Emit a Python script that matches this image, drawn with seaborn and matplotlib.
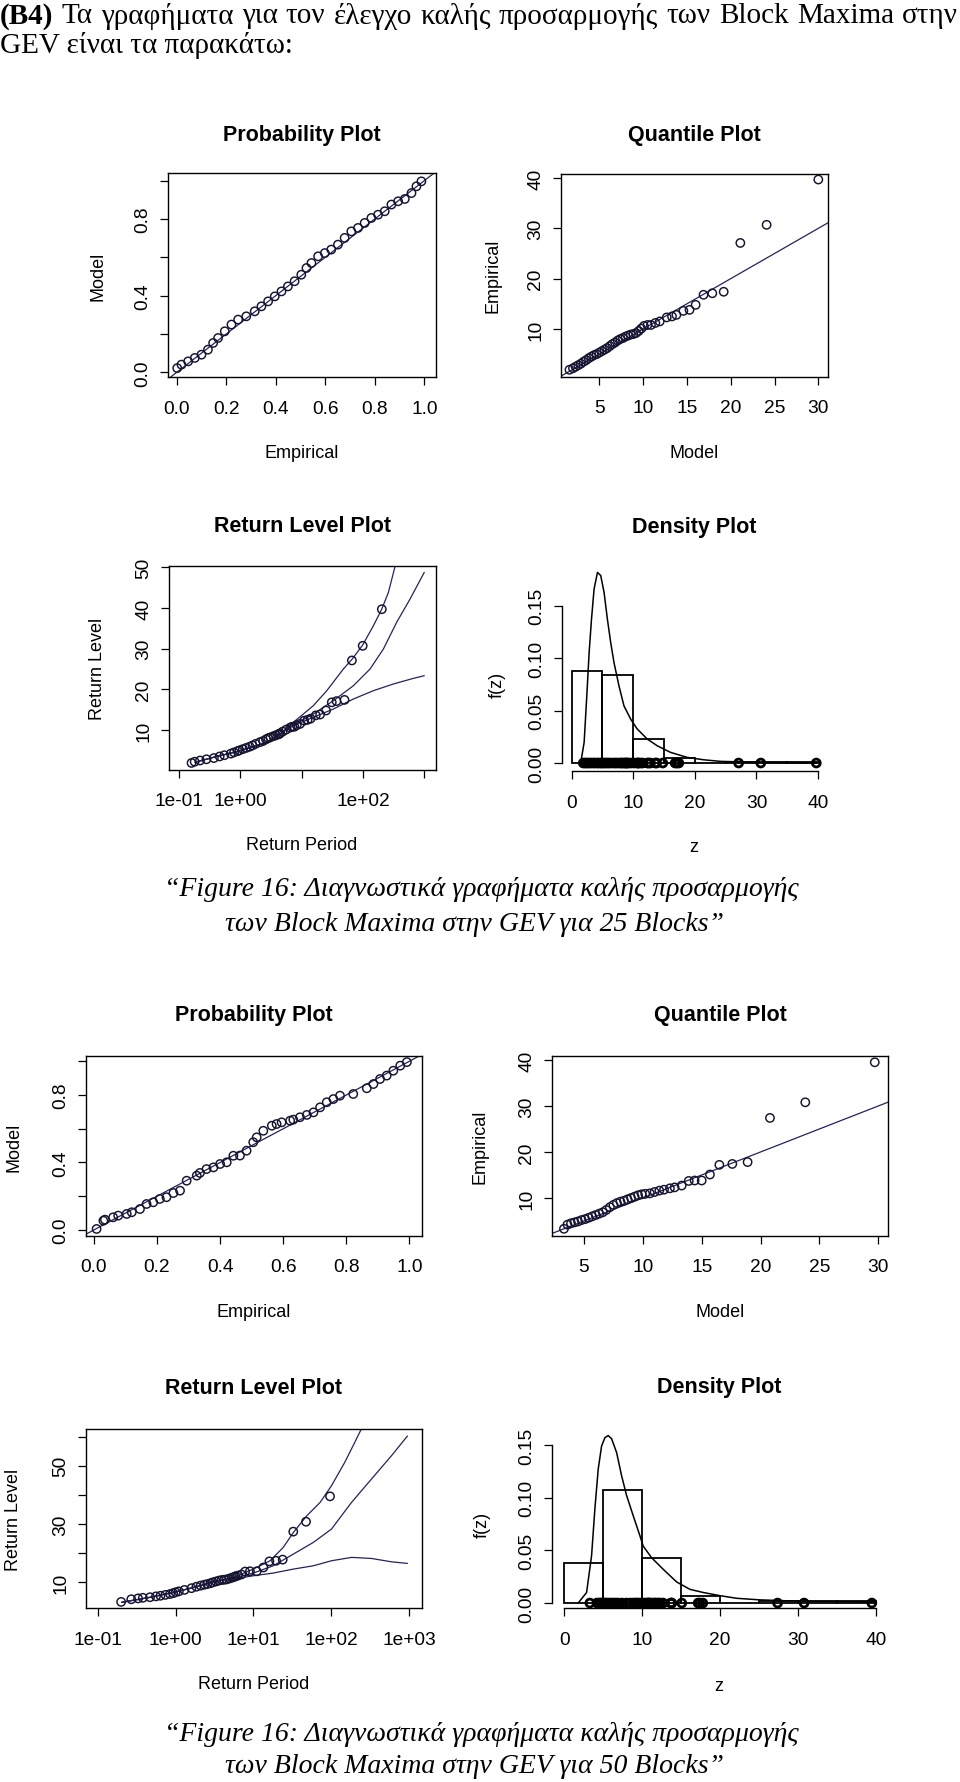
import matplotlib
matplotlib.use("Agg")
import matplotlib.pyplot as plt
from matplotlib.ticker import NullLocator
import seaborn as sns

# ---------------- data ----------------
# 25 blocks: probability plot
p25_emp = [0.002, 0.019, 0.046, 0.073, 0.100, 0.126, 0.147, 0.167, 0.194, 0.221, 0.248, 0.281, 0.315,
           0.342, 0.369, 0.396, 0.423, 0.449, 0.476, 0.503, 0.524, 0.544, 0.571, 0.598, 0.624, 0.651,
           0.678, 0.705, 0.732, 0.759, 0.786, 0.813, 0.840, 0.867, 0.894, 0.921, 0.948, 0.968, 0.988]
p25_mod = [0.022, 0.040, 0.057, 0.075, 0.092, 0.118, 0.153, 0.179, 0.214, 0.249, 0.275, 0.292, 0.318,
           0.344, 0.370, 0.396, 0.422, 0.448, 0.475, 0.509, 0.544, 0.570, 0.605, 0.622, 0.640, 0.666,
           0.701, 0.735, 0.753, 0.779, 0.805, 0.822, 0.840, 0.875, 0.892, 0.904, 0.935, 0.970, 0.996]
# 25 blocks: quantile plot (model vs sorted block maxima)
q25_mod = [1.6, 2.0, 2.3, 2.6, 2.9, 3.2, 3.5, 3.8, 4.1, 4.4, 4.7, 5.0, 5.3, 5.6, 5.9, 6.2, 6.5, 6.8, 7.1,
           7.4, 7.7, 8.0, 8.3, 8.6, 8.9, 9.2, 9.5, 9.8, 10.1, 10.5, 10.9, 11.4, 11.9, 12.7, 13.3, 13.8,
           14.6, 15.3, 16.0, 16.9, 17.9, 19.2, 21.1, 24.1, 30.0]
q25_emp = [1.9, 2.2, 2.5, 2.8, 3.1, 3.5, 3.8, 4.2, 4.5, 4.8, 5.0, 5.3, 5.6, 5.9, 6.2, 6.6, 7.0, 7.3, 7.7,
           8.0, 8.2, 8.5, 8.7, 8.9, 9.0, 9.2, 9.6, 10.1, 10.6, 10.8, 10.8, 11.2, 11.5, 12.3, 12.5, 12.8,
           13.6, 13.8, 14.8, 16.8, 17.1, 17.4, 27.1, 30.7, 39.7]
# 25 blocks: return periods of the empirical points
rl25_T = [0.16, 0.18, 0.22, 0.28, 0.37, 0.46, 0.55, 0.70, 0.79, 0.90, 0.97, 1.1, 1.25, 1.42, 1.58, 1.78,
          2.08, 2.35, 2.62, 2.85, 3.1, 3.5, 3.8, 4.1, 4.3, 4.45, 4.9, 5.6, 6.5, 7.0, 7.6, 8.3, 9.4, 11,
          12.5, 14, 17, 20, 25, 31, 37, 50, 66, 99, 203]
# 25 blocks: fitted return level curve and confidence bounds
up25_T = [0.182, 0.363, 1.0, 2.69, 4.45, 7.33, 15.5, 25.7, 47.9, 65.6, 99, 148, 203, 260, 334, 420]
up25_L = [2.06, 3.28, 4.91, 6.97, 9.02, 11.89, 15.98, 19.67, 25.0, 27.3, 30.9, 35.65, 39.75, 43.85, 50.25, 56]
fit25_T = [0.182, 0.363, 1.0, 2.69, 4.45, 7.33, 15.5, 32.9, 69.8, 130.6, 215, 355, 586, 1000]
fit25_L = [2.06, 3.28, 4.91, 6.97, 9.02, 11.23, 13.93, 17.2, 20.89, 25.0, 29.9, 36.5, 42.2, 48.77]
lo25_T = [0.182, 0.363, 1.0, 2.69, 4.45, 7.33, 15.5, 32.9, 69.8, 148, 313, 664, 1000]
lo25_L = [2.06, 3.28, 4.91, 6.97, 9.02, 11.07, 13.12, 15.16, 17.62, 19.67, 21.31, 22.7, 23.35]
# 25 blocks: density plot
hist_edges = [0, 5, 10, 15, 20, 25, 30, 35, 40]
hist_mid = [2.5, 7.5, 12.5, 17.5, 22.5, 27.5, 32.5, 37.5]
h25 = [0.088, 0.084, 0.0232, 0.0048, 0.0, 0.0008, 0.0008, 0.0008]
d25_z = [1.50, 2.04, 2.47, 2.85, 3.23, 3.65, 4.20, 4.73, 5.27, 5.82, 6.35, 6.88, 7.69, 8.50, 9.58,
         10.66, 12.28, 13.89, 16.04, 18.74, 21.42, 24.12, 29.5, 39.74]
d25_f = [0.0007, 0.0197, 0.064, 0.1055, 0.137, 0.166, 0.182, 0.179, 0.163, 0.137, 0.115, 0.096, 0.0737,
         0.0546, 0.042, 0.0324, 0.0229, 0.0165, 0.0102, 0.0054, 0.0031, 0.0016, 0.0007, 0.0]

# 50 blocks
p50_emp = [0.0085, 0.030, 0.035, 0.061, 0.077, 0.104, 0.120, 0.146, 0.167, 0.188, 0.209, 0.230, 0.252,
           0.273, 0.294, 0.326, 0.336, 0.357, 0.379, 0.400, 0.421, 0.442, 0.463, 0.484, 0.505, 0.516,
           0.537, 0.564, 0.579, 0.595, 0.622, 0.632, 0.653, 0.675, 0.696, 0.717, 0.738, 0.759, 0.780,
           0.822, 0.865, 0.886, 0.907, 0.928, 0.949, 0.971, 0.992]
p50_mod = [0.006, 0.055, 0.061, 0.075, 0.085, 0.095, 0.105, 0.124, 0.154, 0.164, 0.184, 0.194, 0.219,
           0.233, 0.292, 0.322, 0.338, 0.361, 0.371, 0.391, 0.401, 0.440, 0.441, 0.470, 0.520, 0.549,
           0.588, 0.618, 0.628, 0.638, 0.648, 0.654, 0.668, 0.682, 0.697, 0.727, 0.757, 0.776, 0.796,
           0.806, 0.840, 0.865, 0.895, 0.915, 0.944, 0.974, 0.995]
q50_mod = [3.3, 3.6, 3.9, 4.2, 4.5, 4.8, 5.1, 5.4, 5.7, 6.0, 6.3, 6.6, 6.9, 7.2, 7.5, 7.8, 8.1, 8.4, 8.7,
           9.0, 9.3, 9.6, 9.9, 10.2, 10.6, 11.0, 11.4, 11.8, 12.3, 12.7, 13.3, 13.9, 14.4, 15.0, 15.7,
           16.5, 17.6, 18.9, 20.8, 23.8, 29.7]
q50_emp = [3.3, 4.2, 4.5, 4.7, 4.9, 5.2, 5.4, 5.7, 6.0, 6.3, 6.6, 6.9, 7.4, 8.0, 8.5, 8.9, 9.2, 9.4, 9.7,
           10.0, 10.3, 10.6, 10.8, 10.9, 11.0, 11.3, 11.6, 11.8, 12.1, 12.3, 12.7, 13.7, 13.8, 13.8, 15.1,
           17.2, 17.4, 17.8, 27.4, 30.8, 39.5]
rl50_T = [0.20, 0.27, 0.33, 0.38, 0.47, 0.56, 0.64, 0.74, 0.85, 0.93, 1.0, 1.1, 1.3, 1.6, 1.85, 2.1, 2.35,
          2.55, 2.8, 3.0, 3.3, 3.6, 3.9, 4.2, 4.5, 4.9, 5.3, 5.6, 5.9, 6.3, 7.0, 7.8, 9.0, 11, 13.4, 16,
          19.5, 23.7, 32.4, 47.2, 96]
up50_T = [0.203, 0.469, 1.03, 2.06, 3.37, 5.5, 9.94, 16.3, 24.1, 32.5, 48.2, 71.5, 100, 148, 199, 243, 300]
up50_L = [3.15, 4.86, 6.78, 8.84, 10.45, 11.7, 14.55, 17.4, 21.99, 27.1, 32.8, 37.4, 43.1, 51.1, 57.95, 62.7, 68]
fit50_T = [0.203, 0.469, 1.03, 2.06, 3.37, 5.5, 9.94, 17.9, 32.5, 58.6, 100, 181, 326, 589, 946]
fit50_L = [3.15, 4.86, 6.78, 8.84, 10.45, 11.36, 13.18, 15.68, 19.7, 23.7, 28.25, 37.4, 45.4, 53.4, 60.2]
lo50_T = [0.203, 0.469, 1.03, 2.06, 3.37, 5.5, 9.94, 17.9, 32.5, 58.6, 100, 181, 326, 589, 946]
lo50_L = [3.15, 4.86, 6.78, 8.84, 10.45, 11.13, 12.26, 13.18, 14.55, 15.68, 17.4, 18.56, 18.2, 17.05, 16.5]
h50 = [0.0384, 0.1072, 0.0432, 0.0064, 0.0, 0.0016, 0.0016, 0.0016]
d50_z = [1.80, 2.88, 3.52, 3.94, 4.37, 4.80, 5.23, 5.65, 6.09, 6.73, 7.37, 8.02, 8.86, 9.72, 10.15, 11.23,
         12.72, 14.44, 16.15, 17.86, 20.0, 22.15, 25.14, 30.7, 39.9]
d50_f = [0.0, 0.010, 0.045, 0.089, 0.127, 0.149, 0.157, 0.159, 0.156, 0.143, 0.121, 0.102, 0.083, 0.064,
         0.054, 0.043, 0.032, 0.020, 0.013, 0.010, 0.007, 0.0045, 0.003, 0.0016, 0.001]

header1 = "(B4) Τα γραφήματα για τον έλεγχο καλής προσαρμογής των Block Maxima στην"
header2 = "GEV είναι τα παρακάτω:"
cap_a = "“Figure 16: Διαγνωστικά γραφήματα καλής προσαρμογής"
cap_b25 = "των Block Maxima στην GEV για 25 Blocks”"
cap_b50 = "των Block Maxima στην GEV για 50 Blocks”"

# ---------------- style ----------------
sns.set_style("ticks", {"axes.edgecolor": "black", "xtick.color": "black", "ytick.color": "black",
                        "text.color": "black", "axes.labelcolor": "black"})
plt.rcParams['font.family'] = ['Liberation Sans', 'DejaVu Sans']
LN = '#23235e'     # fitted lines
PT = '#141430'     # points
TICK = 13.8
LAB = 13
TITLE = 15.5

W, H = 960, 1783
fig = plt.figure(figsize=(W / 100, H / 100), dpi=100)


def panel(l, t, r, b, xlim, ylim, frame=True):
    ax = fig.add_axes([l / W, 1 - b / H, (r - l) / W, (b - t) / H])
    ax.set_facecolor('white')
    for s in ax.spines.values():
        s.set_linewidth(1.0)
        s.set_color('black')
    if not frame:
        ax.spines['top'].set_visible(False)
        ax.spines['right'].set_visible(False)
    return ax


def ticks(ax, xlim, ylim, xt, xl, yt, yl):
    ax.set_xlim(xlim)
    ax.set_ylim(ylim)
    ax.set_xticks(xt, xl)
    ax.set_yticks(yt, yl)
    ax.xaxis.set_minor_locator(NullLocator())
    ax.yaxis.set_minor_locator(NullLocator())
    ax.tick_params(direction='out', length=6, width=0.9, labelsize=TICK, color='black')
    ax.tick_params(axis='x', pad=10)
    ax.tick_params(axis='y', pad=6, labelrotation=90)
    for lab in ax.get_yticklabels():
        lab.set_va('center')
    ax.set_xlabel('')
    ax.set_ylabel('')


def put(x, y, s, **kw):
    kw.setdefault('ha', 'center')
    kw.setdefault('va', 'center')
    fig.text(x / W, 1 - y / H, s, **kw)


def labels(cx, ty, title, xy, xlab, yx, ylab, cy):
    put(cx, ty, title, fontsize=TITLE, fontweight='bold')
    put(cx, xy, xlab, fontsize=LAB)
    put(yx, cy, ylab, fontsize=LAB, rotation=90)


def points(ax, x, y, color=PT):
    sns.scatterplot(x=x, y=y, ax=ax, marker='o', s=36, facecolor='none', edgecolor=color,
                    linewidth=1.05, zorder=3, legend=False)


def curve(ax, x, y, color=LN, lw=0.9):
    sns.lineplot(x=x, y=y, ax=ax, color=color, linewidth=lw, sort=False, estimator=None)


prob_t = [0, 0.2, 0.4, 0.6, 0.8, 1.0]
prob_l = ['0.0', '0.2', '0.4', '0.6', '0.8', '1.0']
prob_yl = ['0.0', '', '0.4', '', '0.8', '']
q_t = [5, 10, 15, 20, 25, 30]
q_yt = [10, 20, 30, 40]
rl_t = [0.1, 1, 10, 100, 1000]
den_yt = [0, 0.05, 0.10, 0.15]
den_yl = ['0.00', '0.05', '0.10', '0.15']
den_xt = [0, 10, 20, 30, 40]


def prob_panel(box, lims, emp, mod, geo):
    ax = panel(*box, *lims)
    ax.axline((0, 0), slope=1, color=LN, lw=0.9)
    points(ax, emp, mod)
    ticks(ax, *lims, prob_t, prob_l, prob_t, prob_yl)
    labels(*geo)


def quant_panel(box, lims, mod, emp, geo):
    ax = panel(*box, *lims)
    ax.axline((0, 0), slope=1, color=LN, lw=0.9)
    points(ax, mod, emp)
    ticks(ax, *lims, q_t, [str(v) for v in q_t], q_yt, [str(v) for v in q_yt])
    labels(*geo)


def rl_panel(box, lims, T, L, curves, xl, yt, yl, geo):
    ax = panel(*box, *lims)
    ax.set_xscale('log')
    for cT, cL in curves:
        curve(ax, cT, cL)
    points(ax, T, L)
    ticks(ax, *lims, rl_t, xl, yt, yl)
    labels(*geo)


def dens_panel(box, lims, h, z, f, data, geo):
    ax = panel(*box, *lims, frame=False)
    sns.histplot(x=hist_mid, weights=h, bins=hist_edges, fill=False, color='black',
                 linewidth=1.3, ax=ax)
    curve(ax, z, f, color='black', lw=1.1)
    sns.scatterplot(x=data, y=[0] * len(data), ax=ax, marker='o', s=32, facecolor='none',
                    edgecolor='black', linewidth=2.0, zorder=3, legend=False, clip_on=False)
    ticks(ax, *lims, den_xt, [str(v) for v in den_xt], den_yt, den_yl)
    ax.spines['left'].set_bounds(0, 0.15)
    ax.spines['bottom'].set_bounds(0, 40)
    labels(*geo)


# ---------------- 25 blocks ----------------
prob_panel((168.3, 174.3, 436, 378.3), ((-0.034, 1.047), (-0.026, 1.038)), p25_emp, p25_mod,
           (302, 135, 'Probability Plot', 453, 'Empirical', 98, 'Model', 276))
quant_panel((560.7, 175, 827.7, 377.7), ((0.6, 31.07), (0.52, 40.8)), q25_mod, q25_emp,
            (694, 135, 'Quantile Plot', 453, 'Model', 493, 'Empirical', 276))
rl_panel((168.7, 567.3, 435.7, 770.7), ((0.0679, 1535), (0.24, 50.25)), rl25_T, q25_emp,
         [(up25_T, up25_L), (fit25_T, fit25_L), (lo25_T, lo25_L)],
         ['1e-01', '1e+00', '', '1e+02', ''], [10, 20, 30, 40, 50], ['10', '20', '30', '40', '50'],
         (302, 527, 'Return Level Plot', 845, 'Return Period', 98, 'Return Level', 669))
dens_panel((561.7, 565, 828, 772.3), ((-1.6, 41.6), (-0.0079, 0.19)), h25, d25_z, d25_f, q25_emp,
           (694, 528, 'Density Plot', 848, 'z', 497, 'f(z)', 685))

# ---------------- 50 blocks ----------------
prob_panel((85.7, 1056.7, 421.7, 1236.7), ((-0.026, 1.039), (-0.034, 1.033)), p50_emp, p50_mod,
           (253.7, 1016, 'Probability Plot', 1313, 'Empirical', 14, 'Model', 1147))
quant_panel((551.7, 1056.7, 888.3, 1236.7), ((2.26, 30.85), (1.8, 40.93)), q50_mod, q50_emp,
            (720, 1016, 'Quantile Plot', 1313, 'Model', 480, 'Empirical', 1147))
rl_panel((85.7, 1430, 421.7, 1609.3), ((0.0702, 1442), (1.1, 62.6)), rl50_T, q50_emp,
         [(up50_T, up50_L), (fit50_T, fit50_L), (lo50_T, lo50_L)],
         ['1e-01', '1e+00', '1e+01', '1e+02', '1e+03'], [10, 20, 30, 40, 50, 60],
         ['10', '', '30', '', '50', ''],
         (253.7, 1388, 'Return Level Plot', 1685, 'Return Period', 14, 'Return Level', 1520))
dens_panel((551.7, 1425, 888.2, 1609.3), ((-1.6, 41.6), (-0.005, 0.17)), h50, d50_z, d50_f, q50_emp,
           (719, 1388, 'Density Plot', 1687, 'z', 482, 'f(z)', 1525))

# ---------------- page text ----------------
SERIF = ['Liberation Serif', 'DejaVu Serif']
HSIZE = 21
rend = fig.canvas.get_renderer()
words = header1.split()
arts = [fig.text(0, 1 - 16 / H, w, fontsize=HSIZE, family=SERIF, va='center',
                 fontweight='bold' if i == 0 else 'normal') for i, w in enumerate(words)]
widths = [a.get_window_extent(rend).width for a in arts]
gap = (958 - sum(widths)) / (len(words) - 1)
if gap < 3:
    scale = (958 - 3 * (len(words) - 1)) / sum(widths)
    for a in arts:
        a.set_fontsize(HSIZE * scale)
    widths = [a.get_window_extent(rend).width for a in arts]
    gap = (958 - sum(widths)) / (len(words) - 1)
xpos = 0
for a, wd in zip(arts, widths):
    a.set_x(xpos / W)
    xpos += wd + gap
fig.text(0, 1 - 45.5 / H, header2, fontsize=HSIZE, family=SERIF, va='center')

CSIZE = 20
put(481, 889.5, cap_a, fontsize=CSIZE, family=SERIF, style='italic')
put(474, 924.7, cap_b25, fontsize=CSIZE, family=SERIF, style='italic')
put(481, 1734.5, cap_a, fontsize=CSIZE, family=SERIF, style='italic')
put(474, 1766.4, cap_b50, fontsize=CSIZE, family=SERIF, style='italic')

fig.savefig('out.png', dpi=100, facecolor='white')
